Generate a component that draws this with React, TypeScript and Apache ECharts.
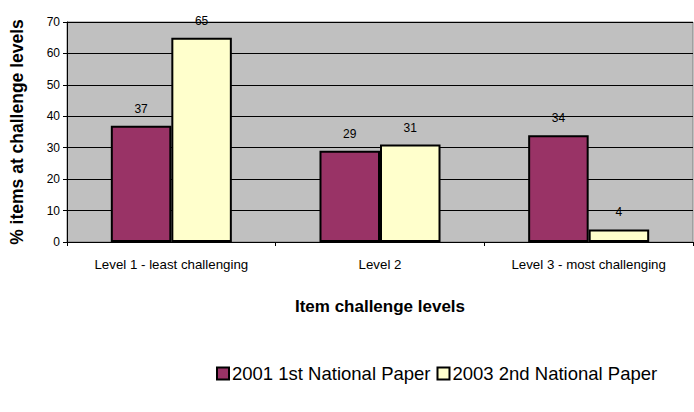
import React, { useEffect, useRef } from "react";
import * as echarts from "echarts";

const categories = ["Level 1 - least challenging", "Level 2", "Level 3 - most challenging"];
const series2001 = [37, 29, 34];
const series2003 = [65, 31, 4];
const seriesNames = ["2001 1st National Paper", "2003 2nd National Paper"];
const yTicks = { min: 0, max: 70, interval: 10 };

const FONT = "'Liberation Sans', Arial, sans-serif";

export default function App() {
  const ref = useRef<HTMLDivElement>(null);
  useEffect(() => {
    if (!ref.current) return;
    const chart = echarts.init(ref.current, undefined, { renderer: "svg" });
    chart.setOption({
      animation: false,
      textStyle: { fontFamily: FONT },
      grid: {
        left: 67,
        right: 1,
        top: 22,
        bottom: 170,
        show: true,
        backgroundColor: "#C0C0C0",
        borderColor: "#808080",
        borderWidth: 1,
      },
      legend: {
        data: seriesNames,
        top: 359,
        left: 211,
        itemWidth: 12,
        itemHeight: 12,
        itemGap: 6,
        icon: "rect",
        textStyle: { fontFamily: FONT, fontSize: 18.5, color: "#000", padding: [0, 0, 0, -2] },
      },
      xAxis: {
        type: "category",
        data: categories,
        name: "Item challenge levels",
        nameLocation: "middle",
        nameGap: 56,
        nameTextStyle: { fontFamily: FONT, fontSize: 17, fontWeight: "bold", color: "#000" },
        axisLine: { lineStyle: { color: "#000", width: 1 } },
        axisTick: { show: true, alignWithLabel: false, length: 4, lineStyle: { color: "#000" } },
        axisLabel: { fontFamily: FONT, fontSize: 13.3, color: "#000", margin: 16 },
      },
      yAxis: {
        type: "value",
        min: yTicks.min,
        max: yTicks.max,
        interval: yTicks.interval,
        name: "% items at challenge levels",
        nameLocation: "middle",
        nameGap: 41,
        nameTextStyle: { fontFamily: FONT, fontSize: 17.5, fontWeight: "bold", color: "#000" },
        axisLine: { show: true, lineStyle: { color: "#000" } },
        axisTick: { show: true, length: 4, lineStyle: { color: "#000" } },
        axisLabel: { fontFamily: FONT, fontSize: 12, color: "#000", margin: 7 },
        splitLine: { show: true, lineStyle: { color: "#000", width: 1 } },
      },
      series: [
        {
          name: seriesNames[0],
          type: "bar",
          data: series2001,
          barGap: "0%",
          barCategoryGap: "42%",
          itemStyle: { color: "#993366", borderColor: "#000", borderWidth: 2 },
          label: { show: true, position: "top", distance: 11, fontFamily: FONT, fontSize: 12, color: "#000" },
        },
        {
          name: seriesNames[1],
          type: "bar",
          data: series2003,
          barGap: "0%",
          barCategoryGap: "42%",
          itemStyle: { color: "#FFFFCC", borderColor: "#000", borderWidth: 2 },
          label: { show: true, position: "top", distance: 11, fontFamily: FONT, fontSize: 12, color: "#000" },
        },
      ],
    });
    return () => chart.dispose();
  }, []);
  return <div ref={ref} style={{ width: 694, height: 412, position: "absolute", left: 0, top: 0 }} />;
}
